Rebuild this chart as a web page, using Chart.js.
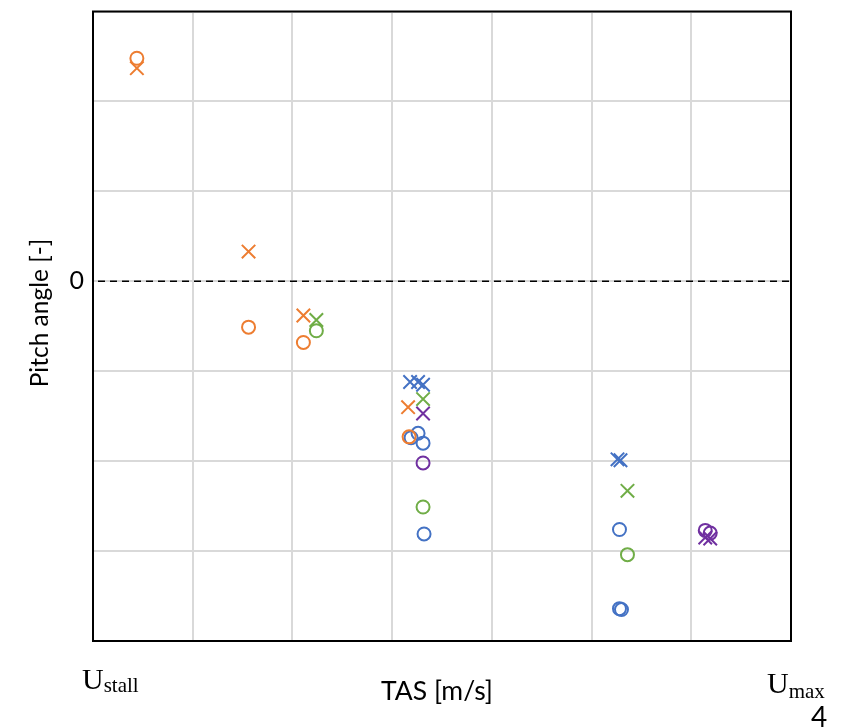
<!DOCTYPE html>
<html>
<head>
<meta charset="utf-8">
<script src="https://cdn.jsdelivr.net/npm/chart.js@4/dist/chart.umd.min.js"></script>
<style>
  html, body { margin: 0; padding: 0; background: #ffffff; }
  #wrap { width: 844px; height: 728px; position: relative; }
</style>
</head>
<body>
<div id="wrap"><canvas id="c" width="844" height="728"></canvas></div>
<script>
// ---- data (TAS on a 0..7 grid, pitch angle on a -4..3 grid) ----
const orangeCircleX = [0.44, 1.56, 2.11, 3.17];
const orangeCircleY = [2.48, -0.51, -0.68, -1.73];
const orangeCrossX  = [0.44, 1.56, 2.11, 3.16];
const orangeCrossY  = [2.37, 0.33, -0.38, -1.40];

const blueCircleX = [3.19, 3.26, 3.31, 3.32, 5.28, 5.28, 5.30];
const blueCircleY = [-1.74, -1.69, -1.80, -2.81, -2.76, -3.64, -3.65];
const blueCrossX  = [3.18, 3.26, 3.31, 5.26, 5.29];
const blueCrossY  = [-1.12, -1.12, -1.15, -1.98, -1.99];

const greenCircleX = [2.24, 3.31, 5.36];
const greenCircleY = [-0.55, -2.51, -3.04];
const greenCrossX  = [2.24, 3.31, 5.36];
const greenCrossY  = [-0.43, -1.31, -2.33];

const purpleCircleX = [3.31, 6.14, 6.19];
const purpleCircleY = [-2.02, -2.77, -2.80];
const purpleCrossX  = [3.31, 6.14, 6.19];
const purpleCrossY  = [-1.47, -2.85, -2.86];

const yTickLabels = { 0: '0' };
const yAxisTitle = 'Pitch angle [-]';
const xAxisTitle = 'TAS [m/s]';
const xLowLabel = ['U', 'stall'];
const xHighLabel = ['U', 'max'];
const cornerText = '4';

const ORANGE = '#ED7D31', BLUE = '#4472C4', GREEN = '#70AD47', PURPLE = '#7030A0';

function pts(xs, ys) { return xs.map((x, i) => ({ x: x, y: ys[i] })); }
function circleSet(label, xs, ys, color) {
  return { label, data: pts(xs, ys), pointStyle: 'circle', pointRadius: 6.5, pointHoverRadius: 6.5,
           borderColor: color, backgroundColor: 'rgba(0,0,0,0)', pointBorderWidth: 2, showLine: false };
}
function crossSet(label, xs, ys, color) {
  return { label, data: pts(xs, ys), pointStyle: 'crossRot', pointRadius: 9.5, pointHoverRadius: 9.5,
           borderColor: color, backgroundColor: color, pointBorderWidth: 2, showLine: false };
}

const extras = {
  id: 'extras',
  beforeDatasetsDraw(chart) {
    const ctx = chart.ctx, a = chart.chartArea, y0 = chart.scales.y.getPixelForValue(0);
    ctx.save();
    ctx.strokeStyle = '#000';
    ctx.lineWidth = 1.6;
    ctx.setLineDash([7, 5]);
    ctx.beginPath();
    ctx.moveTo(a.left + 5, y0);
    ctx.lineTo(a.right, y0);
    ctx.stroke();
    ctx.restore();
  },
  afterDraw(chart) {
    const ctx = chart.ctx, a = chart.chartArea;
    ctx.save();
    ctx.strokeStyle = '#000';
    ctx.lineWidth = 2;
    ctx.strokeRect(a.left, a.top, a.right - a.left, a.bottom - a.top);

    ctx.fillStyle = '#000';
    // y axis title
    ctx.save();
    ctx.translate(40, 313);
    ctx.rotate(-Math.PI / 2);
    ctx.font = '24.5px Lato';
    ctx.textAlign = 'center';
    ctx.textBaseline = 'middle';
    ctx.fillText(yAxisTitle, 0, 0);
    ctx.restore();

    // x axis title
    ctx.font = '26.5px Lato';
    ctx.textAlign = 'center';
    ctx.textBaseline = 'middle';
    ctx.fillText(xAxisTitle, 437, 691);

    // U_stall
    ctx.textAlign = 'left';
    ctx.textBaseline = 'alphabetic';
    ctx.font = '30px "Liberation Serif"';
    ctx.fillText(xLowLabel[0], 82, 689);
    let w = ctx.measureText(xLowLabel[0]).width;
    ctx.font = '21px "Liberation Serif"';
    ctx.fillText(xLowLabel[1], 82 + w, 692);

    // U_max
    ctx.font = '30px "Liberation Serif"';
    ctx.fillText(xHighLabel[0], 767, 693);
    w = ctx.measureText(xHighLabel[0]).width;
    ctx.font = '21px "Liberation Serif"';
    ctx.fillText(xHighLabel[1], 767 + w, 698);

    // corner "4"
    ctx.font = '28px Lato';
    ctx.fillText(cornerText, 811, 727);
    ctx.restore();
  }
};

new Chart(document.getElementById('c'), {
  type: 'scatter',
  data: {
    datasets: [
      circleSet('orange o', orangeCircleX, orangeCircleY, ORANGE),
      crossSet('orange x', orangeCrossX, orangeCrossY, ORANGE),
      circleSet('blue o', blueCircleX, blueCircleY, BLUE),
      crossSet('blue x', blueCrossX, blueCrossY, BLUE),
      circleSet('green o', greenCircleX, greenCircleY, GREEN),
      crossSet('green x', greenCrossX, greenCrossY, GREEN),
      circleSet('purple o', purpleCircleX, purpleCircleY, PURPLE),
      crossSet('purple x', purpleCrossX, purpleCrossY, PURPLE)
    ]
  },
  options: {
    responsive: false,
    animation: false,
    devicePixelRatio: 1,
    layout: { padding: { left: 0, top: 8, right: 53, bottom: 0 } },
    plugins: { legend: { display: false }, tooltip: { enabled: false } },
    scales: {
      x: {
        type: 'linear', min: 0, max: 7,
        ticks: { stepSize: 1, display: false },
        grid: { color: '#d9d9d9', lineWidth: 2, drawTicks: false },
        border: { display: true, color: '#000', width: 2 },
        afterFit(s) { s.height = 87; s.paddingLeft = 0; s.paddingRight = 0; }
      },
      y: {
        type: 'linear', min: -4, max: 3,
        ticks: {
          stepSize: 1, autoSkip: false, padding: 9, color: '#000',
          font: { family: 'Lato', size: 25 },
          callback: (v) => (yTickLabels[v] !== undefined ? yTickLabels[v] : '')
        },
        grid: { color: '#d9d9d9', lineWidth: 2, drawTicks: false },
        border: { display: true, color: '#000', width: 2 },
        afterFit(s) { s.width = 93; s.paddingTop = 0; s.paddingBottom = 0; }
      }
    }
  },
  plugins: [extras]
});
</script>
</body>
</html>
